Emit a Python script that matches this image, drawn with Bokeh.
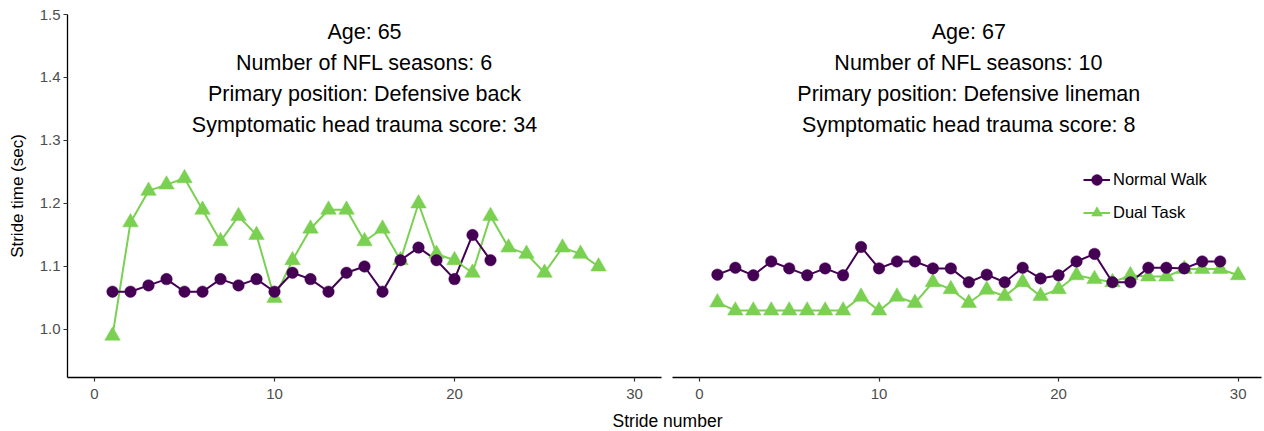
from bokeh.plotting import figure
from bokeh.layouts import column, row
from bokeh.models import Range1d, FixedTicker, Legend, LegendItem, Label, NumeralTickFormatter
from bokeh.embed import file_html
from bokeh.resources import INLINE

FONT = "Liberation Sans"
PURPLE = "#440154"
GREEN = "#7AD151"

# ---- data ----
left_normal_stride = list(range(1, 23))
left_normal_time = [1.06, 1.06, 1.07, 1.08, 1.06, 1.06, 1.08, 1.07, 1.08, 1.06, 1.09,
                    1.08, 1.06, 1.09, 1.10, 1.06, 1.11, 1.13, 1.11, 1.08, 1.15, 1.11]
left_dual_stride = list(range(1, 29))
left_dual_time = [0.99, 1.17, 1.22, 1.23, 1.24, 1.19, 1.14, 1.18, 1.15, 1.05, 1.11, 1.16,
                  1.19, 1.19, 1.14, 1.16, 1.11, 1.20, 1.12, 1.11, 1.09, 1.18, 1.13, 1.12,
                  1.09, 1.13, 1.12, 1.10]

right_normal_stride = list(range(1, 30))
right_normal_time = [1.087, 1.098, 1.086, 1.108, 1.097, 1.086, 1.097, 1.086, 1.131, 1.097,
                     1.108, 1.108, 1.097, 1.097, 1.075, 1.087, 1.075, 1.098, 1.081, 1.086,
                     1.108, 1.120, 1.075, 1.075, 1.098, 1.098, 1.097, 1.108, 1.108]
right_dual_stride = list(range(1, 31))
right_dual_time = [1.043, 1.030, 1.030, 1.030, 1.030, 1.030, 1.030, 1.030, 1.052, 1.030,
                   1.052, 1.042, 1.075, 1.064, 1.042, 1.063, 1.053, 1.075, 1.053, 1.064,
                   1.086, 1.080, 1.075, 1.086, 1.084, 1.084, 1.096, 1.096, 1.096, 1.086]

left_info = ["Age: 65", "Number of NFL seasons: 6",
             "Primary position: Defensive back", "Symptomatic head trauma score: 34"]
right_info = ["Age: 67", "Number of NFL seasons: 10",
              "Primary position: Defensive lineman", "Symptomatic head trauma score: 8"]

series_names = ["Normal Walk", "Dual Task"]
x_ticks = [0, 10, 20, 30]
y_ticks = [1.0, 1.1, 1.2, 1.3, 1.4, 1.5]
x_label = "Stride number"
y_label = "Stride time (sec)"

y_range = Range1d(0.9238, 1.5)
ROW_H = 407


def style_axis_common(ax):
    ax.axis_line_color = "black"
    ax.axis_line_width = 1.3
    ax.major_tick_line_color = "#333333"
    ax.major_tick_line_width = 1.2
    ax.major_tick_out = 4
    ax.major_tick_in = 0
    ax.minor_tick_line_color = None
    ax.major_label_text_font = FONT
    ax.major_label_text_font_size = "15px"
    ax.major_label_text_color = "#4D4D4D"


def make_panel(width, mbl, mbr, xr, nw_x, nw_y, dt_x, dt_y, info, show_y, legend):
    p = figure(width=width, height=ROW_H, x_range=xr, y_range=y_range,
               output_backend="svg", toolbar_location=None,
               min_border_left=mbl, min_border_right=mbr, min_border_top=14,
               min_border_bottom=30,
               y_axis_location="left" if show_y else None)
    p.outline_line_color = None
    p.xgrid.visible = False
    p.ygrid.visible = False
    p.background_fill_color = "white"
    p.border_fill_color = "white"
    xa = p.xaxis[0]
    xa.ticker = FixedTicker(ticks=x_ticks)
    style_axis_common(xa)
    xa.major_label_standoff = 7
    if show_y:
        ax = p.yaxis[0]
        ax.ticker = FixedTicker(ticks=y_ticks)
        ax.formatter = NumeralTickFormatter(format="0.0")
        style_axis_common(ax)
        ax.major_label_standoff = 3
        ax.axis_label = y_label
        ax.axis_label_text_font = FONT
        ax.axis_label_text_font_size = "17px"
        ax.axis_label_text_font_style = "normal"
        ax.axis_label_text_color = "black"
        ax.axis_label_standoff = 10

    l_dt = p.line(dt_x, dt_y, line_color=GREEN, line_width=2, line_join="round")
    l_nw = p.line(nw_x, nw_y, line_color=PURPLE, line_width=2, line_join="round")
    s_dt = p.scatter(dt_x, dt_y, marker="triangle", size=15.5, fill_color=GREEN,
                     line_color=GREEN, line_width=0.5)
    s_nw = p.scatter(nw_x, nw_y, marker="circle", size=11.5, fill_color=PURPLE,
                     line_color=PURPLE, line_width=0.5)

    offsets = [346, 314.7, 283.4, 252.1]
    for txt, off in zip(info, offsets):
        p.add_layout(Label(x=15, y=off, y_units="screen", text=txt,
                           text_align="center", text_baseline="alphabetic",
                           text_font=FONT, text_font_size="21.5px", text_color="black"))

    if legend:
        lg = Legend(items=[LegendItem(label=series_names[0], renderers=[l_nw, s_nw]),
                           LegendItem(label=series_names[1], renderers=[l_dt, s_dt])],
                    location=(411, 148), orientation="vertical",
                    border_line_color=None, background_fill_alpha=0,
                    padding=0, margin=0, spacing=0,
                    glyph_width=27, glyph_height=33, label_height=33,
                    label_standoff=3, label_text_font=FONT,
                    label_text_font_size="16.5px", label_text_color="black")
        p.add_layout(lg, "center")
    return p


p1 = make_panel(666, 67, 5, Range1d(-1.5, 31.5), left_normal_stride, left_normal_time,
                left_dual_stride, left_dual_time, left_info, True, False)
p2 = make_panel(598, 6, 3, Range1d(-1.5, 31.3), right_normal_stride, right_normal_time,
                right_dual_stride, right_dual_time, right_info, False, True)

pl = figure(width=1264, height=431 - ROW_H, x_range=Range1d(0, 1264), y_range=Range1d(0, 24),
            output_backend="svg", toolbar_location=None,
            min_border_left=0, min_border_right=0, min_border_top=0, min_border_bottom=0,
            x_axis_location=None, y_axis_location=None)
pl.outline_line_color = None
pl.xgrid.visible = False
pl.ygrid.visible = False
pl.add_layout(Label(x=667, y=11, x_units="screen", y_units="screen", text=x_label,
                    text_align="center", text_baseline="alphabetic",
                    text_font=FONT, text_font_size="17.5px", text_color="black"))

layout = column(row(p1, p2, spacing=0), pl, spacing=0)

open("out.html", "w").write(file_html(layout, INLINE))
